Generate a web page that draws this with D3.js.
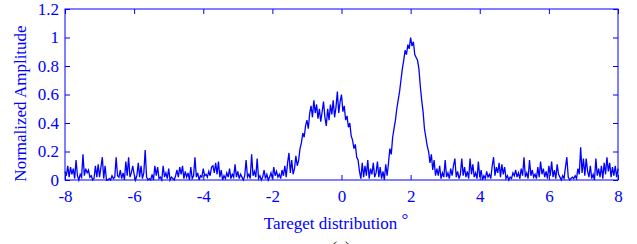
<!DOCTYPE html>
<html>
<head>
<meta charset="utf-8">
<script src="https://cdn.jsdelivr.net/npm/d3@7"></script>
<style>
  body { margin: 0; background: #fff; }
  text { font-family: "Liberation Serif", "Times New Roman", serif; }
</style>
</head>
<body>
<div id="chart"></div>
<script>
// サンプル位置（-8 から 8 まで 0.04 刻み）
let xStart = -8
let xStep = 0.04

// 正規化振幅（目視で読み取った値）
let amp = [
  // -8 .. -7
  0.06, 0.03, 0.10, 0.02, 0.09, 0.04, 0.08, 0.01, 0.14, 0.03, 0.00, 0.04, 0.02, 0.18, 0.03, 0.08, 0.05, 0.07, 0.02, 0.03, 0.00, 0.01, 0.10, 0.02, 0.11,
  // -7 .. -6
  0.02, 0.09, 0.16, 0.01, 0.10, 0.00, 0.00, 0.01, 0.00, 0.03, 0.01, 0.02, 0.16, 0.03, 0.02, 0.07, 0.01, 0.05, 0.00, 0.13, 0.03, 0.16, 0.02, 0.05, 0.10,
  // -6 .. -5
  0.04, 0.00, 0.03, 0.12, 0.02, 0.10, 0.01, 0.05, 0.21, 0.02, 0.00, 0.01, 0.00, 0.04, 0.00, 0.10, 0.03, 0.09, 0.01, 0.02, 0.00, 0.10, 0.02, 0.05, 0.01,
  // -5 .. -4
  0.08, 0.00, 0.02, 0.01, 0.00, 0.03, 0.07, 0.02, 0.09, 0.04, 0.10, 0.01, 0.06, 0.02, 0.05, 0.00, 0.09, 0.01, 0.03, 0.16, 0.02, 0.05, 0.00, 0.03, 0.02,
  // -4 .. -3
  0.08, 0.03, 0.04, 0.02, 0.06, 0.03, 0.09, 0.10, 0.05, 0.12, 0.04, 0.13, 0.02, 0.07, 0.00, 0.03, 0.01, 0.05, 0.02, 0.08, 0.01, 0.04, 0.02, 0.11, 0.02,
  // -3 .. -2
  0.06, 0.01, 0.04, 0.02, 0.00, 0.03, 0.14, 0.02, 0.04, 0.01, 0.18, 0.03, 0.06, 0.02, 0.15, 0.01, 0.03, 0.00, 0.02, 0.07, 0.01, 0.04, 0.00, 0.02, 0.05,
  // -2 .. -1
  0.01, 0.09, 0.03, 0.06, 0.02, 0.04, 0.01, 0.07, 0.03, 0.10, 0.02, 0.12, 0.19, 0.05, 0.14, 0.04, 0.08, 0.17, 0.10, 0.14, 0.22, 0.26, 0.33, 0.30, 0.38,
  // -1 .. 0
  0.42, 0.36, 0.47, 0.52, 0.44, 0.56, 0.47, 0.53, 0.43, 0.50, 0.41, 0.48, 0.55, 0.44, 0.38, 0.50, 0.42, 0.53, 0.46, 0.56, 0.44, 0.51, 0.62, 0.47, 0.55,
  // 0 .. 1
  0.60, 0.48, 0.52, 0.42, 0.45, 0.37, 0.40, 0.31, 0.28, 0.22, 0.25, 0.16, 0.14, 0.06, 0.01, 0.12, 0.02, 0.10, 0.03, 0.14, 0.01, 0.08, 0.04, 0.12, 0.02,
  // 1 .. 2
  0.05, 0.13, 0.02, 0.09, 0.01, 0.06, 0.00, 0.11, 0.03, 0.12, 0.22, 0.18, 0.30, 0.36, 0.42, 0.50, 0.56, 0.62, 0.70, 0.78, 0.84, 0.91, 0.88, 0.95, 0.92,
  // 2 .. 3
  1.00, 0.94, 0.97, 0.88, 0.86, 0.84, 0.78, 0.66, 0.56, 0.48, 0.36, 0.30, 0.24, 0.20, 0.12, 0.18, 0.07, 0.14, 0.03, 0.08, 0.03, 0.10, 0.01, 0.05, 0.02,
  // 3 .. 4
  0.14, 0.02, 0.05, 0.01, 0.08, 0.03, 0.10, 0.15, 0.02, 0.06, 0.01, 0.04, 0.15, 0.03, 0.09, 0.02, 0.06, 0.01, 0.15, 0.04, 0.11, 0.02, 0.05, 0.01, 0.13,
  // 4 .. 5
  0.02, 0.07, 0.00, 0.03, 0.01, 0.06, 0.02, 0.04, 0.01, 0.10, 0.16, 0.03, 0.09, 0.05, 0.12, 0.02, 0.11, 0.04, 0.09, 0.01, 0.03, 0.00, 0.02, 0.01, 0.05,
  // 5 .. 6
  0.03, 0.07, 0.02, 0.05, 0.01, 0.08, 0.03, 0.16, 0.02, 0.05, 0.01, 0.14, 0.03, 0.07, 0.02, 0.04, 0.01, 0.09, 0.02, 0.13, 0.04, 0.08, 0.02, 0.06, 0.01,
  // 6 .. 7
  0.10, 0.03, 0.13, 0.02, 0.07, 0.01, 0.11, 0.04, 0.02, 0.00, 0.03, 0.01, 0.09, 0.16, 0.02, 0.00, 0.01, 0.02, 0.01, 0.03, 0.01, 0.08, 0.04, 0.23, 0.05,
  // 7 .. 8
  0.15, 0.03, 0.15, 0.06, 0.02, 0.10, 0.01, 0.04, 0.00, 0.15, 0.03, 0.08, 0.02, 0.10, 0.01, 0.12, 0.04, 0.16, 0.06, 0.12, 0.02, 0.09, 0.03, 0.10, 0.02,
  0.08
]

// 目盛り
let xTicks = [-8, -6, -4, -2, 0, 2, 4, 6, 8]
let xTickLabels = ["-8", "-6", "-4", "-2", "0", "2", "4", "6", "8"]
let yTicks = [0, 0.2, 0.4, 0.6, 0.8, 1, 1.2]
let yTickLabels = ["0", "0.2", "0.4", "0.6", "0.8", "1", "1.2"]

let color = "#0000ff"

// svg描画領域の設定
let svg = d3.select("#chart")
  .append("svg")
  .attr("width", 637)
  .attr("height", 244)

let plotLeft = 65, plotRight = 618, plotTop = 9, plotBottom = 180

// スケールの設定
let xscale = d3.scaleLinear().domain([-8, 8]).range([plotLeft, plotRight])
let yscale = d3.scaleLinear().domain([0, 1.2]).range([plotBottom, plotTop])

// データ線
let line = d3.line()
  .x(function (d, i) { return xscale(xStart + i * xStep) })
  .y(function (d) { return yscale(d) })

svg.append("path")
  .datum(amp)
  .attr("fill", "none")
  .attr("stroke", color)
  .attr("stroke-width", 1.3)
  .attr("d", line)

// 枠
svg.append("rect")
  .attr("x", plotLeft)
  .attr("y", plotTop)
  .attr("width", plotRight - plotLeft)
  .attr("height", plotBottom - plotTop)
  .attr("fill", "none")
  .attr("stroke", color)
  .attr("stroke-width", 1)

// 軸（内向きの目盛り）
function styleAxis(g) {
  g.select(".domain").remove()
  g.selectAll("line").attr("stroke", color)
  g.selectAll("text")
    .attr("fill", color)
    .attr("font-size", "17px")
    .attr("font-family", "Liberation Serif, Times New Roman, serif")
}

svg.append("g")
  .attr("transform", `translate(0,${plotBottom})`)
  .call(d3.axisBottom(xscale).tickValues(xTicks).tickSize(-5).tickPadding(10)
    .tickFormat(function (d, i) { return xTickLabels[i] }))
  .call(styleAxis)

svg.append("g")
  .attr("transform", `translate(0,${plotTop})`)
  .call(d3.axisTop(xscale).tickValues(xTicks).tickSize(-5).tickFormat(""))
  .call(styleAxis)

svg.append("g")
  .attr("transform", `translate(${plotLeft},0)`)
  .call(d3.axisLeft(yscale).tickValues(yTicks).tickSize(-5).tickPadding(6)
    .tickFormat(function (d, i) { return yTickLabels[i] }))
  .call(styleAxis)

svg.append("g")
  .attr("transform", `translate(${plotRight},0)`)
  .call(d3.axisRight(yscale).tickValues(yTicks).tickSize(-5).tickFormat(""))
  .call(styleAxis)

// ラベル（Y軸）
svg.append("text")
  .attr("transform", `translate(26,${(plotTop + plotBottom) / 2 + 9}) rotate(-90)`)
  .attr("text-anchor", "middle")
  .attr("font-size", "17px")
  .attr("fill", color)
  .text("Normalized Amplitude")

// ラベル（X軸）
let xl = svg.append("text")
  .attr("x", 336)
  .attr("y", 229)
  .attr("text-anchor", "middle")
  .attr("font-size", "17px")
  .attr("fill", color)
xl.append("tspan").text("Tareget distribution ")
xl.append("tspan").attr("dy", -4).text("°")

// 図番号（元画像でも下端で切れている）
svg.append("text")
  .attr("x", 341)
  .attr("y", 253)
  .attr("text-anchor", "middle")
  .attr("font-size", "17px")
  .attr("fill", "#333")
  .text("(a)")
</script>
</body>
</html>
